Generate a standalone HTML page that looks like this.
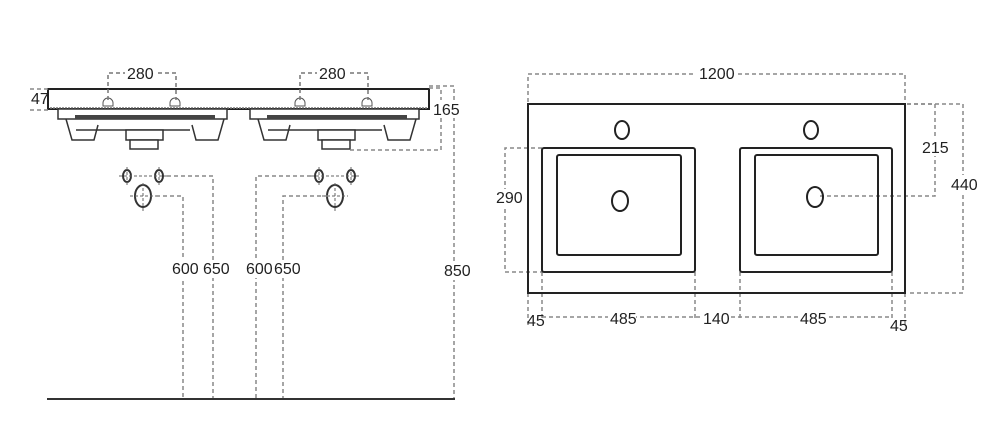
<!DOCTYPE html>
<html><head><style>
html,body{margin:0;padding:0;background:#fff;width:994px;height:445px;overflow:hidden}
svg text{font-family:"Liberation Sans Narrow","Liberation Sans",sans-serif;font-size:16px;fill:#222}
</style></head><body>
<svg width="994" height="445" viewBox="0 0 994 445" xmlns="http://www.w3.org/2000/svg">
<defs>
<g id="basin">
  <rect x="58" y="109" width="169" height="10" fill="#fff" stroke="#333" stroke-width="1.5"/>
  <rect x="75" y="115" width="140" height="4" fill="#444"/>
  <path d="M66 119 L72 140 L94 140 L98 125" fill="none" stroke="#333" stroke-width="1.5"/>
  <path d="M192 125 L196 140 L218 140 L224 119" fill="none" stroke="#333" stroke-width="1.5"/>
  <path d="M76 130 L190 130" stroke="#333" stroke-width="1.5"/>
  <rect x="126" y="130" width="37" height="10" fill="#fff" stroke="#333" stroke-width="1.5"/>
  <rect x="130" y="140" width="28" height="9" fill="#fff" stroke="#333" stroke-width="1.5"/>
  <path d="M103 103 a5 5 0 0 1 10 0 v3 h-10z M170 103 a5 5 0 0 1 10 0 v3 h-10z" fill="#fff" stroke="#555" stroke-width="1"/>
  <ellipse cx="127" cy="176" rx="4" ry="6" fill="#fff" stroke="#333" stroke-width="2"/>
  <ellipse cx="159" cy="176" rx="4" ry="6" fill="#fff" stroke="#333" stroke-width="2"/>
  <ellipse cx="143" cy="196" rx="8" ry="11" fill="#fff" stroke="#333" stroke-width="2"/>
  <g stroke="#666" stroke-width="1" stroke-dasharray="3,2" fill="none">
    <line x1="119" y1="176" x2="167" y2="176"/><line x1="127" y1="167" x2="127" y2="186"/><line x1="159" y1="167" x2="159" y2="186"/>
    <line x1="130" y1="196" x2="156" y2="196"/><line x1="143" y1="183" x2="143" y2="212"/>
  </g>
  <g stroke="#777" stroke-width="1.5" stroke-dasharray="4,3" fill="none">
    <polyline points="108,100 108,73 176,73 176,100"/>
  </g>
</g>
</defs>
<rect x="48" y="89" width="381" height="20" fill="#fff" stroke="#222" stroke-width="2"/>
<line x1="50" y1="108" x2="427" y2="108" stroke="#777" stroke-width="1.5" stroke-dasharray="2,1"/>
<use href="#basin"/>
<use href="#basin" transform="translate(192,0)"/>
<rect x="125" y="65" width="30" height="16" fill="#fff"/><rect x="317" y="65" width="30" height="16" fill="#fff"/>
<text x="127" y="79">280</text><text x="319" y="79">280</text>
<g stroke="#888" stroke-width="1.5" stroke-dasharray="4,3" fill="none">
  <polyline points="30,89 48,89"/><polyline points="30,110 48,110"/>
  <polyline points="429,88 441,88 441,150 350,150"/>
  <polyline points="429,86 454,86 454,398"/>
  <polyline points="167,176 213,176 213,398"/>
  <polyline points="156,196 183,196 183,398"/>
  <polyline points="311,176 256,176 256,398"/>
  <polyline points="328,196 283,196 283,398"/>
</g>
<line x1="47" y1="399" x2="455" y2="399" stroke="#333" stroke-width="2"/>
<rect x="170" y="260" width="60" height="18" fill="#fff"/><rect x="245" y="260" width="50" height="18" fill="#fff"/><rect x="443" y="262" width="24" height="18" fill="#fff"/><rect x="432" y="100" width="26" height="18" fill="#fff"/>
<text x="31" y="104">47</text>
<text x="433" y="115">165</text>
<text x="172" y="274">600</text><text x="203" y="274">650</text>
<text x="246" y="274">600</text><text x="274" y="274">650</text>
<text x="444" y="276">850</text>
<g stroke="#888" stroke-width="1.5" stroke-dasharray="4,3" fill="none">
  <polyline points="528,102 528,74 905,74 905,102"/>
  <polyline points="542,148 505,148 505,272 542,272"/>
  <polyline points="907,104 935,104 935,196 820,196"/>
  <polyline points="907,104 963,104 963,293 907,293"/>
  <line x1="528" y1="293" x2="528" y2="325"/><line x1="542" y1="272" x2="542" y2="318"/>
  <line x1="695" y1="272" x2="695" y2="318"/><line x1="740" y1="272" x2="740" y2="318"/>
  <line x1="892" y1="272" x2="892" y2="318"/><line x1="905" y1="293" x2="905" y2="325"/>
  <line x1="542" y1="317" x2="892" y2="317"/>
</g>
<rect x="695" y="66" width="42" height="16" fill="#fff"/>
<text x="699" y="79">1200</text>
<rect x="528" y="104" width="377" height="189" fill="none" stroke="#222" stroke-width="2"/>
<rect x="542" y="148" width="153" height="124" rx="2" fill="none" stroke="#222" stroke-width="2"/>
<rect x="557" y="155" width="124" height="100" rx="2" fill="none" stroke="#222" stroke-width="2"/>
<rect x="740" y="148" width="152" height="124" rx="2" fill="none" stroke="#222" stroke-width="2"/>
<rect x="755" y="155" width="123" height="100" rx="2" fill="none" stroke="#222" stroke-width="2"/>
<g fill="none" stroke="#222" stroke-width="2">
  <ellipse cx="622" cy="130" rx="7" ry="9"/><ellipse cx="811" cy="130" rx="7" ry="9"/>
  <ellipse cx="620" cy="201" rx="8" ry="10"/><ellipse cx="815" cy="197" rx="8" ry="10"/>
</g>
<rect x="921" y="138" width="28" height="18" fill="#fff"/><rect x="950" y="175" width="26" height="18" fill="#fff"/>
<rect x="494" y="189" width="26" height="18" fill="#fff"/>
<text x="922" y="153">215</text><text x="951" y="190">440</text><text x="496" y="203">290</text>
<rect x="608" y="310" width="28" height="16" fill="#fff"/><rect x="700" y="310" width="30" height="16" fill="#fff"/><rect x="799" y="310" width="28" height="16" fill="#fff"/>
<text x="527" y="326">45</text><text x="610" y="324">485</text><text x="703" y="324">140</text><text x="800" y="324">485</text><text x="890" y="331">45</text>
</svg>
</body></html>
